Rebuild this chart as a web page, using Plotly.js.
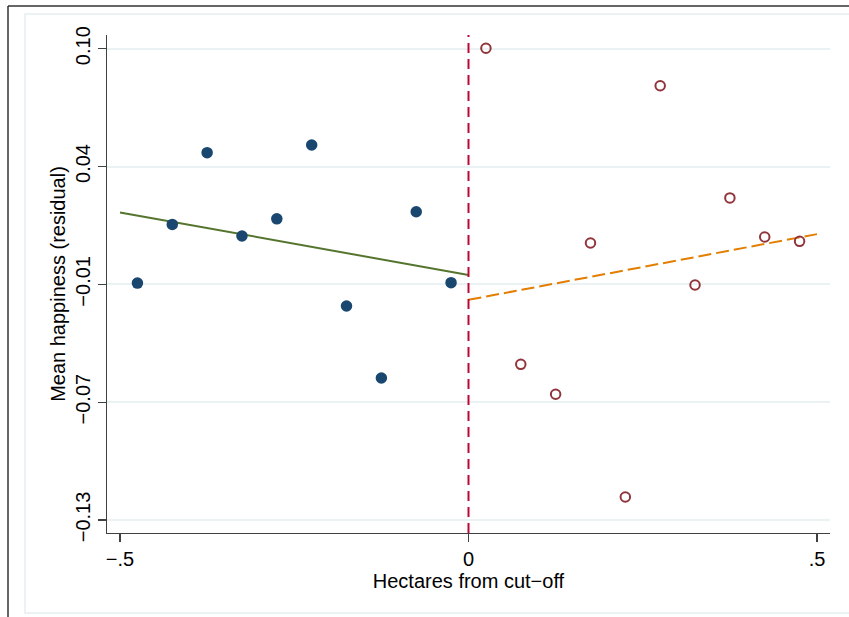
<!DOCTYPE html>
<html>
<head>
<meta charset="utf-8">
<script src="https://cdn.plot.ly/plotly-3.0.1.min.js"></script>
<style>
  html, body { margin: 0; padding: 0; background: #ffffff; }
  #chart { width: 849px; height: 617px; }
</style>
</head>
<body>
<div id="chart"></div>
<script>
// Bin midpoints (hectares from cut-off) and mean residual happiness per bin
const leftX  = [-0.475, -0.425, -0.375, -0.325, -0.275, -0.225, -0.175, -0.125, -0.075, -0.025];
const leftY  = [-0.0134, 0.0150, 0.0497, 0.0094, 0.0177, 0.0534, -0.0245, -0.0593, 0.0211, -0.0132];
const rightX = [0.025, 0.075, 0.125, 0.175, 0.225, 0.275, 0.325, 0.375, 0.425, 0.475];
const rightY = [0.1002, -0.0527, -0.0672, 0.0060, -0.1169, 0.0821, -0.0143, 0.0278, 0.0089, 0.0068];

// Linear fits on each side of the cut-off
const fitLeftX  = [-0.5, 0];
const fitLeftY  = [0.0208, -0.0095];
const fitRightX = [0, 0.5];
const fitRightY = [-0.0215, 0.0103];

const cutoff = 0;

// Axis ticks
const xTickVals = [-0.5, 0, 0.5];
const xTickText = ['\u2212.5', '0', '.5'];
const yTickVals = [0.100, 0.043, -0.014, -0.071, -0.128];
const yTickText = ['0.10', '0.04', '\u22120.01', '\u22120.07', '\u22120.13'];

const FONT = 'Liberation Sans, Arial, Helvetica, sans-serif';

const traces = [
  {
    x: fitLeftX, y: fitLeftY, type: 'scatter', mode: 'lines',
    line: { color: '#55752f', width: 2 }, hoverinfo: 'skip'
  },
  {
    x: fitRightX, y: fitRightY, type: 'scatter', mode: 'lines',
    line: { color: '#e37e00', width: 2, dash: '13px,5px' }, hoverinfo: 'skip'
  },
  {
    x: leftX, y: leftY, type: 'scatter', mode: 'markers',
    marker: { symbol: 'circle', size: 11.5, color: '#1a476f' }
  },
  {
    x: rightX, y: rightY, type: 'scatter', mode: 'markers',
    marker: { symbol: 'circle-open', size: 9.5, color: '#90353b', line: { width: 2, color: '#90353b' } }
  }
];

// Plot area in pixels, used to place the page frame lines in paper units
const plotW = 723, plotH = 498, marL = 107, marT = 35;
const px = v => (v - marL) / plotW;
const py = v => (marT + plotH - v) / plotH;

const layout = {
  width: 849,
  height: 617,
  margin: { l: marL, r: 849 - marL - plotW, t: marT, b: 617 - marT - plotH },
  paper_bgcolor: '#ffffff',
  plot_bgcolor: '#ffffff',
  showlegend: false,
  font: { family: FONT, size: 20, color: '#000000' },
  xaxis: {
    range: [-0.51865, 0.51865],
    tickvals: xTickVals,
    ticktext: xTickText,
    ticks: 'outside', ticklen: 8, tickwidth: 1.2, tickcolor: '#404040',
    showline: true, linecolor: '#404040', linewidth: 1.2,
    showgrid: false, zeroline: false,
    tickfont: { family: FONT, size: 20, color: '#000000' },
    title: { text: 'Hectares from cut\u2212off', font: { family: FONT, size: 20, color: '#000000' }, standoff: 2 }
  },
  yaxis: {
    range: [-0.1343, 0.10663],
    tickvals: yTickVals,
    ticktext: yTickText,
    tickangle: -90,
    ticks: 'outside', ticklen: 8, tickwidth: 1.2, tickcolor: '#404040',
    showline: true, linecolor: '#404040', linewidth: 1.2,
    showgrid: true, gridcolor: '#eaf2f3', gridwidth: 2,
    zeroline: false,
    tickfont: { family: FONT, size: 20, color: '#000000' },
    title: { text: 'Mean happiness (residual)', font: { family: FONT, size: 20, color: '#000000' }, standoff: 0 }
  },
  shapes: [
    // cut-off marker
    {
      type: 'line', xref: 'x', yref: 'paper',
      x0: cutoff, x1: cutoff, y0: 0, y1: 1,
      line: { color: '#c10534', width: 2, dash: '10px,6px' }
    },
    // light inner border of the graph region
    {
      type: 'rect', xref: 'paper', yref: 'paper', layer: 'below',
      x0: px(25), x1: px(880), y0: py(613), y1: py(14),
      line: { color: '#e6eef0', width: 1.5 }, fillcolor: 'rgba(0,0,0,0)'
    },
    // dark outer frame, top and left edges
    {
      type: 'line', xref: 'paper', yref: 'paper',
      x0: px(8), x1: px(880), y0: py(6), y1: py(6),
      line: { color: '#333333', width: 1.5 }
    },
    {
      type: 'line', xref: 'paper', yref: 'paper',
      x0: px(8), x1: px(8), y0: py(6), y1: py(640),
      line: { color: '#333333', width: 1.5 }
    }
  ]
};

Plotly.newPlot('chart', traces, layout, { displayModeBar: false, staticPlot: true });
</script>
</body>
</html>
